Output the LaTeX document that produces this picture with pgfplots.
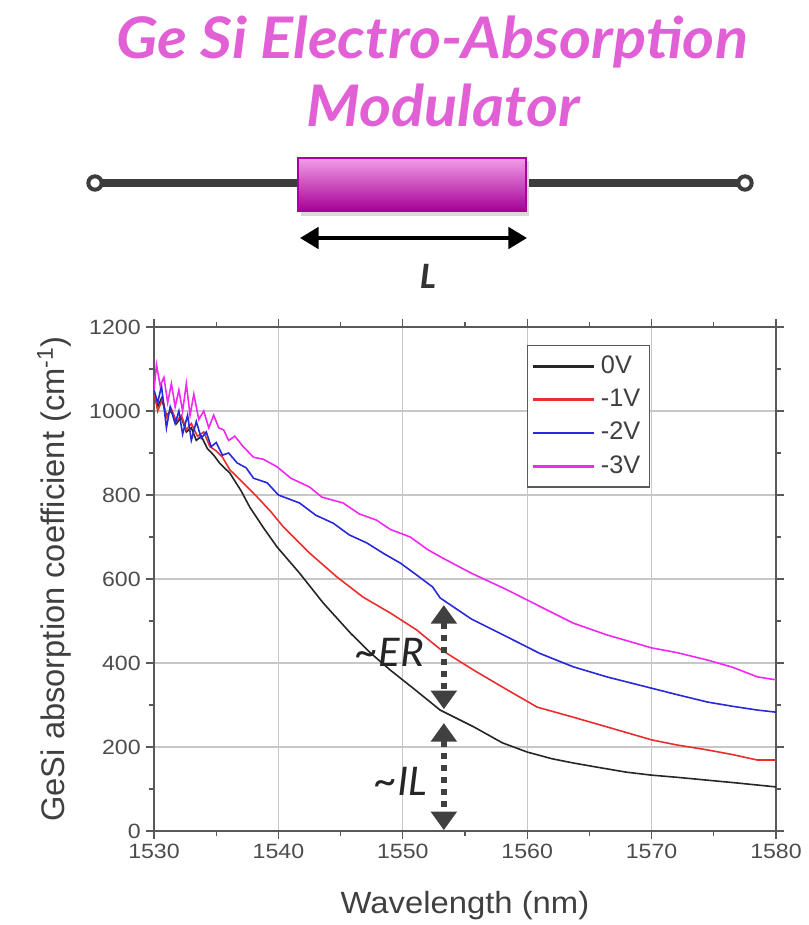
\documentclass[border=0pt]{standalone}
\usepackage{fontspec}
\setmainfont{Liberation Sans}
\newfontfamily\titlefont{Lato}
\newfontfamily\califont{Carlito}
\usepackage{pgfplots}
\pgfplotsset{compat=1.18}
\usetikzlibrary{arrows.meta}
\definecolor{titlepink}{RGB}{226,96,214}
\definecolor{wire}{RGB}{60,60,60}
\definecolor{boxborder}{RGB}{170,0,160}
\definecolor{boxtop}{RGB}{242,156,232}
\definecolor{boxmid}{RGB}{214,110,206}
\definecolor{boxbot}{RGB}{165,0,150}
\definecolor{cblack}{RGB}{38,38,38}
\definecolor{cred}{RGB}{235,45,45}
\definecolor{cblue}{RGB}{40,40,220}
\definecolor{cmag}{RGB}{240,40,240}
\definecolor{arrowgray}{RGB}{64,64,64}

\pgfplotstableread{
x y
1530 1040
1530.3 1010
1530.6 1030
1531 990
1531.4 1000
1531.8 970
1532.2 985
1532.6 950
1533 960
1533.4 930
1533.8 940
1534.3 910
1534.8 895
1535.3 875
1536.1 852
1537 810
1537.7 771
1538.8 722
1539.9 676
1541.7 614
1543.6 543
1545.8 471
1547.4 424
1549 383
1551 336
1553 288
1555.7 248
1558 210
1560 188
1562 172
1563.7 162
1566 150
1568 140
1570 133
1572 128
1574.5 121
1577 114
1580 105
}\zeroV

\pgfplotstableread{
x y
1530 1045
1530.3 1000
1530.7 1030
1531 985
1531.4 1005
1531.8 975
1532.2 990
1532.6 955
1533 970
1533.5 940
1534 950
1534.5 915
1535 905
1535.5 890
1536.1 860
1537.2 828
1538.3 795
1539.4 760
1540.4 724
1542.5 662
1544.7 605
1546.8 557
1549 519
1551.1 479
1553 433
1555.7 383
1558.4 336
1560.8 295
1563.7 271
1566.4 248
1570 217
1572 205
1574.5 193
1576.5 182
1578.5 169
1580 169
}\oneV

\pgfplotstableread{
x y
1530 1050
1530.3 1020
1530.6 1060
1531 960
1531.3 1010
1531.7 970
1532 1000
1532.3 945
1532.7 990
1533 930
1533.4 975
1533.8 935
1534.2 950
1534.6 915
1535 925
1535.5 895
1536 900
1536.7 876
1537.4 865
1538 840
1539.1 829
1540 800
1541.7 781
1543 752
1544.4 733
1545.7 705
1547.1 686
1548.5 660
1549.8 638
1551 612
1552.4 581
1553 555
1555.5 505
1558.4 462
1561 423
1563.7 391
1566.4 367
1570 340
1572 325
1574.5 307
1576.5 297
1578.5 288
1580 283
}\twoV

\pgfplotstableread{
x y
1530 1050
1530.2 1110
1530.5 1060
1530.8 1080
1531.1 1020
1531.4 1065
1531.7 1010
1532 1050
1532.3 1000
1532.6 1065
1532.9 990
1533.2 1040
1533.6 980
1534 1000
1534.4 960
1534.8 990
1535.2 960
1535.6 955
1536 930
1536.5 940
1537.2 914
1538 890
1538.8 885
1539.9 867
1541 840
1542.5 819
1543.5 795
1545.2 781
1546.5 755
1547.9 740
1549 718
1550.6 700
1552 670
1553.2 650
1555.5 614
1558.4 574
1561 535
1563.7 495
1566.4 467
1570 436
1572 425
1574.5 407
1576.5 390
1578.5 367
1580 360
}\threeV

\begin{document}
\begin{tikzpicture}
\path[use as bounding box] (0,0) rectangle (606.75pt,-693.75pt);
\begin{scope}[x=0.75pt,y=-0.75pt]
  \node[font=\titlefont\bfseries\itshape\fontsize{43}{46}\selectfont, text=titlepink, anchor=base, xscale=1.07] at (432,58) {Ge Si Electro-Absorption};
  \node[font=\titlefont\bfseries\itshape\fontsize{43}{46}\selectfont, text=titlepink, anchor=base, xscale=1.07] at (443,126) {Modulator};
  \draw[line width=6pt, wire] (95,183) -- (745,183);
  \draw[line width=3pt, wire, fill=white] (95,183) circle[radius=5pt];
  \draw[line width=3pt, wire, fill=white] (745,183) circle[radius=5pt];
  \fill[black!15] (301,161) rectangle (529,216);
  \shade[top color=boxtop, middle color=boxmid, bottom color=boxbot] (298,158) rectangle (526,211);
  \draw[boxborder, line width=1.3pt] (298,158) rectangle (526,211);
  \draw[line width=3pt, black, {Triangle[width=16pt,length=14pt]}-{Triangle[width=16pt,length=14pt]}] (300,238) -- (527,238);
  \node[font=\califont\bfseries\itshape\fontsize{28}{30}\selectfont, text=black!80, anchor=base] at (428,288) {L};
\end{scope}
\begin{axis}[
  at={(115.5pt,-623.25pt)}, anchor=south west,
  scale only axis, width=466.5pt, height=378pt,
  xmin=1530, xmax=1580, ymin=0, ymax=1200,
  xtick={1530,1540,...,1580}, ytick={0,200,...,1200},
  minor x tick num=1, minor y tick num=1,
  grid=major, major grid style={color=black!22, line width=0.9pt},
  axis line style={color=black!65, line width=0.9pt},
  every tick/.style={color=black!65, line width=0.9pt},
  major tick length=6pt, minor tick length=3.5pt,
  tick align=outside,
  /pgf/number format/assume math mode=true,
  /pgf/number format/1000 sep={},
  tick label style={font=\fontsize{15.5}{17}\selectfont, text=black!70, xscale=1.12},
  xlabel={Wavelength (nm)},
  ylabel={GeSi absorption coefficient (cm\textsuperscript{-1})},
  xlabel style={font=\fontsize{23}{26}\selectfont, text=black!75, xscale=1.07, at={(axis description cs:0.5,-0.147)}, anchor=center},
  ylabel style={font=\fontsize{24.5}{27}\selectfont, text=black!75, at={(axis description cs:-0.16,0.5)}, anchor=center},
  legend style={at={(0.5997,0.964)}, anchor=north west, draw=black!65, line width=0.9pt, fill=white,
    font=\fontsize{19}{21}\selectfont, text=black!75, inner sep=3pt,
    nodes={text height=13pt, text depth=3pt, inner ysep=4.5pt, inner xsep=4pt}},
  legend cell align=left,
  legend image code/.code={\draw[#1, line width=2pt] (0pt,0pt) -- (46pt,0pt);},
  every axis plot/.append style={line width=1.2pt},
]
\addplot[cblack] table[x=x,y=y] {\zeroV};
\addlegendentry{0V}
\addplot[cred] table[x=x,y=y] {\oneV};
\addlegendentry{-1V}
\addplot[cblue] table[x=x,y=y] {\twoV};
\addlegendentry{-2V}
\addplot[cmag] table[x=x,y=y] {\threeV};
\addlegendentry{-3V}

\draw[arrowgray, line width=5pt, dash pattern=on 5pt off 4pt,
  {Triangle[width=19pt,length=14pt]}-{Triangle[width=19pt,length=14pt]}]
  (axis cs:1553.3,538) -- (axis cs:1553.3,290);
\draw[arrowgray, line width=5pt, dash pattern=on 5pt off 4pt,
  {Triangle[width=19pt,length=14pt]}-{Triangle[width=19pt,length=14pt]}]
  (axis cs:1553.3,257) -- (axis cs:1553.3,2);
\node[font=\califont\itshape\fontsize{33}{36}\selectfont, text=black!85] at (axis cs:1549.0,426) {\textasciitilde ER};
\node[font=\califont\itshape\fontsize{33}{36}\selectfont, text=black!85] at (axis cs:1549.9,118) {\textasciitilde IL};
\end{axis}
\end{tikzpicture}
\end{document}
